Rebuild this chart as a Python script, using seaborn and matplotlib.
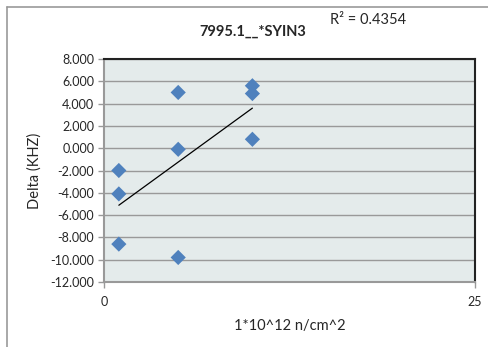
import numpy as np
import pandas as pd
import matplotlib
matplotlib.use("Agg")
import matplotlib.pyplot as plt
from matplotlib.lines import Line2D
from matplotlib.ticker import FormatStrFormatter
import seaborn as sns

# data
fluence = [1, 1, 1, 5, 5, 5, 10, 10, 10]
delta_khz = [-2.0, -4.1, -8.6, 5.0, -0.1, -9.8, 5.6, 4.9, 0.8]
y_ticks = [-12, -10, -8, -6, -4, -2, 0, 2, 4, 6, 8]
x_ticks = [0, 25]

df = pd.DataFrame({"x": fluence, "y": delta_khz})

sns.set_style("white")
plt.rcParams['font.family'] = ['Lato', 'DejaVu Sans']

fig = plt.figure(figsize=(4.89, 3.47), dpi=100)
ax = fig.add_axes([104 / 489, 1 - 282 / 347, 371 / 489, 223 / 347])
ax.set_facecolor('#E4EBEB')

sns.scatterplot(data=df, x="x", y="y", marker="D", s=60, color="#4F81BD",
                edgecolor="none", ax=ax, zorder=3)
sns.regplot(data=df, x="x", y="y", scatter=False, ci=None, ax=ax,
            line_kws={"color": "black", "lw": 0.9, "zorder": 4})

ax.set_xlim(0, 25)
ax.set_ylim(-12, 8)
ax.set_xticks(x_ticks)
ax.set_yticks(y_ticks)
ax.yaxis.set_major_formatter(FormatStrFormatter('%.3f'))
ax.yaxis.grid(True, color='#999999', lw=1.0)
ax.set_axisbelow(True)

for side in ['top', 'right']:
    ax.spines[side].set_color('#222222')
    ax.spines[side].set_linewidth(1.5)
for side in ['left', 'bottom']:
    ax.spines[side].set_color('#999999')
    ax.spines[side].set_linewidth(1.5)

ax.tick_params(axis='y', length=4, width=1, color='#999999', labelsize=9, pad=3)
ax.tick_params(axis='x', length=4, width=1, color='#999999', labelsize=9, pad=6)
ax.tick_params(left=True, bottom=True)

ax.set_xlabel("1*10^12 n/cm^2", fontsize=10.5, labelpad=8)
ax.set_ylabel("Delta (KHZ)", fontsize=10.5, labelpad=6)

fig.text(253 / 489, 1 - 32 / 347, "7995.1__*SYIN3", fontsize=10.5, fontweight='bold',
         ha='center', va='center')
fig.text(330 / 489, 1 - 20 / 347, "R² = 0.4354", fontsize=10.5, ha='left', va='center')

# outer chart frame (only top and left visible in the crop)
fig.add_artist(Line2D([7 / 489, 1], [1 - 7 / 347, 1 - 7 / 347], color='#999999', lw=1.2,
                      transform=fig.transFigure))
fig.add_artist(Line2D([7 / 489, 7 / 489], [0, 1 - 7 / 347], color='#999999', lw=1.2,
                      transform=fig.transFigure))

fig.savefig("out.png", dpi=100)
